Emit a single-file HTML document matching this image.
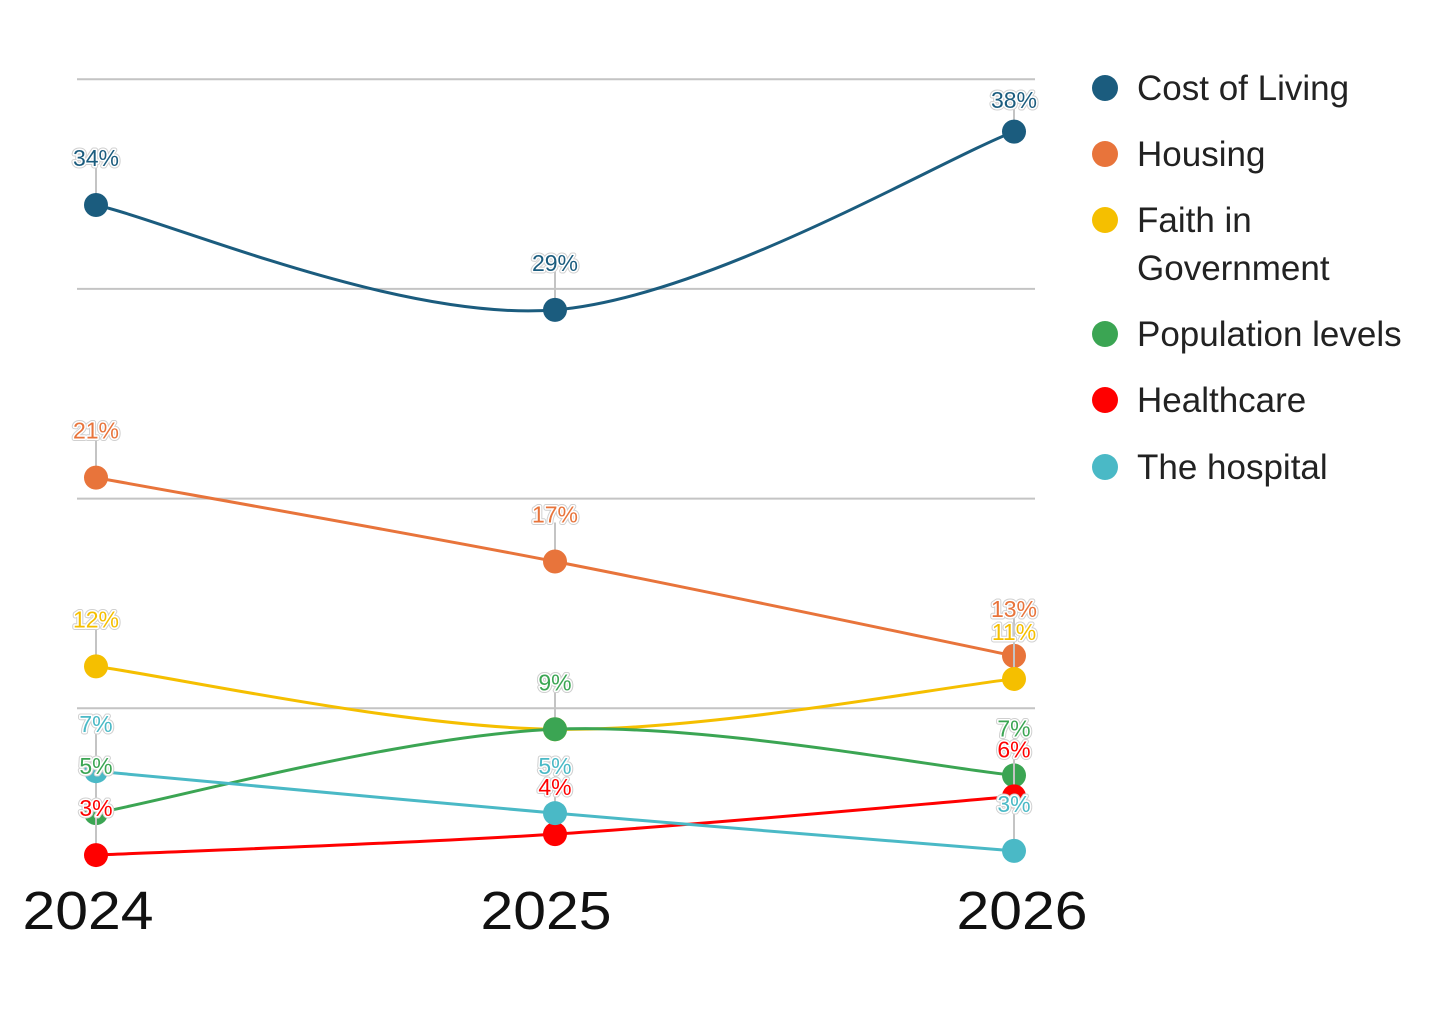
<!DOCTYPE html>
<html><head><meta charset="utf-8"><style>
html,body{margin:0;padding:0;background:#fff;}
svg{display:block;}
text{font-family:"Liberation Sans",sans-serif;}
</style></head><body>
<svg id="chart" width="1441" height="1020"></svg>
<script>
const years = ["2024","2025","2026"];
const seriesNames = ["Cost of Living","Housing","Faith in Government","Population levels","Healthcare","The hospital"];
const costOfLiving = [34, 29, 37.5];
const housing = [21, 17, 12.5];
const faith = [12, 9, 11.4];
const population = [5, 9, 6.8];
const healthcare = [3, 4, 5.8];
const hospital = [7, 5, 3.2];
const gridValues = [10, 20, 30, 40];
const colors = ["#1b5c7e","#e8743b","#f5bf00","#3ba553","#ff0000","#4ab9c6"];
const allSeries = [costOfLiving, housing, faith, population, healthcare, hospital];

const NS = "http://www.w3.org/2000/svg";
const svg = document.getElementById("chart");
function xPos(i){ return 96 + i * 459; }
function yPos(v){ return 918 - 20.97 * v; }
function mk(tag, attrs, parent){
  const e = document.createElementNS(NS, tag);
  for (const k in attrs) e.setAttribute(k, attrs[k]);
  (parent || svg).appendChild(e);
  return e;
}

gridValues.forEach(g => {
  const l = mk("line", {x1:77, x2:1035, y1:yPos(g), y2:yPos(g), stroke:"#c4c4c4", "stroke-width":2});
  
  
});

const labelShift = [-8, -9, 8];
years.forEach((y, i) => {
  const t = mk("text", {x:xPos(i) + labelShift[i], y:929, "text-anchor":"middle", "font-size":54, fill:"#111", textLength:131, lengthAdjust:"spacingAndGlyphs"});
  t.textContent = y;
  
  
});

function pathFor(vals){
  const pts = vals.map((v, i) => [xPos(i), yPos(v)]);
  let d = "M" + pts[0][0] + "," + pts[0][1];
  for (let i = 0; i < pts.length - 1; i++){
    const p0 = pts[Math.max(0, i-1)], p1 = pts[i], p2 = pts[i+1], p3 = pts[Math.min(pts.length-1, i+2)];
    const c1x = p1[0] + (p2[0]-p0[0])/6, c1y = p1[1] + (p2[1]-p0[1])/6;
    const c2x = p2[0] - (p3[0]-p1[0])/6, c2y = p2[1] - (p3[1]-p1[1])/6;
    d += " C" + c1x + "," + c1y + " " + c2x + "," + c2y + " " + p2[0] + "," + p2[1];
  }
  return d;
}

const labelLayer = [];
allSeries.forEach((vals, s) => {
  const g = mk("g", {});
  
  
  const p = mk("path", {d:pathFor(vals), fill:"none", stroke:colors[s], "stroke-width":3}, g);
  
  
  vals.forEach((v, i) => {
    const cx = xPos(i), cy = yPos(v);
    const ly = Math.max(100, cy - 47);
    const lead = mk("line", {x1:cx, x2:cx, y1:ly + 8, y2:cy, stroke:"#c4c4c4", "stroke-width":2}, g);
    
    
    const c = mk("circle", {cx:cx, cy:cy, r:12, fill:colors[s]}, g);
    
    
    labelLayer.push([cx, ly, Math.round(v) + "%", colors[s]]);
  });
});
labelLayer.forEach(L => {
  const halo = mk("text", {x:L[0], y:L[1] + 8, "text-anchor":"middle", "font-size":23, fill:"#fff", stroke:"#d0d0d0", "stroke-width":5, "stroke-linejoin":"round"});
  halo.textContent = L[2];
  
  
  const h2 = mk("text", {x:L[0], y:L[1] + 8, "text-anchor":"middle", "font-size":23, fill:L[3], stroke:"#fff", "stroke-width":3, "paint-order":"stroke", "stroke-linejoin":"round"});
  h2.textContent = L[2];
  
  
});

const legendY = [88, 154, 220, 334, 400, 467];
seriesNames.forEach((n, s) => {
  const g = mk("g", {});
  
  
  mk("circle", {cx:1105, cy:legendY[s], r:13, fill:colors[s]}, g);
  const t = mk("text", {x:1137, y:legendY[s] + 12, "font-size":35, fill:"#222"}, g);
  if (n === "Faith in Government") {
    t.textContent = "Faith in";
    const t2 = mk("text", {x:1137, y:legendY[s] + 60, "font-size":35, fill:"#222"}, g);
    t2.textContent = "Government";
  } else t.textContent = n;
});
</script>
</body></html>
